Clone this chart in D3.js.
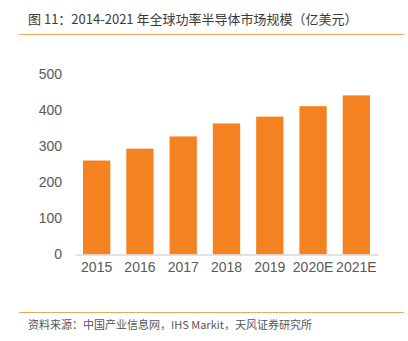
<!DOCTYPE html>
<html><head><meta charset="utf-8">
<script src="https://cdn.jsdelivr.net/npm/d3@7/dist/d3.min.js"></script>
<style>body{margin:0;background:#fff;}svg{display:block;}</style>
</head><body>
<svg id="c" width="408" height="341"></svg>
<script>
const categories = ["2015","2016","2017","2018","2019","2020E","2021E"];
const values = [261, 294, 328, 364, 383, 412, 442];
const yTicks = [0,100,200,300,400,500];
const titleText = "图 11：2014-2021 年全球功率半导体市场规模（亿美元）";
const sourceText = "资料来源：中国产业信息网，IHS Markit，天风证券研究所";

const svg = d3.select("#c");
const font = "'Noto Sans CJK SC', 'Helvetica', Arial, sans-serif";
const x = d3.scaleBand().domain(categories).range([75, 378]).paddingInner(0.37).paddingOuter(0.185);
const y = d3.scaleLinear().domain([0, 500]).range([254.5, 74.5]);

svg.append("text").attr("x", 28).attr("y", 24).attr("font-family", font)
  .attr("font-size", 13).attr("fill", "#3a3a3a").attr("font-weight", 400).text(titleText);
svg.append("line").attr("x1", 19).attr("x2", 404).attr("y1", 34.5).attr("y2", 34.5)
  .attr("stroke", "#f5a45a").attr("stroke-width", 1);

svg.selectAll("rect.bar").data(values).join("rect").attr("class","bar")
  .attr("x", (d,i) => x(categories[i])).attr("width", x.bandwidth())
  .attr("y", d => y(d)).attr("height", d => y(0) - y(d))
  .attr("fill", "#f58220");

const yAxis = d3.axisLeft(y).tickValues(yTicks).tickSize(0).tickPadding(0);
const gy = svg.append("g").attr("transform", "translate(62,0)").call(yAxis);
gy.select(".domain").remove();
gy.selectAll("text").attr("font-family", "Arial, 'Liberation Sans', sans-serif").attr("font-size", 14).attr("fill", "#595959");

const xAxis = d3.axisBottom(x).tickSize(0).tickPadding(0);
const gx = svg.append("g").attr("transform", "translate(0,254.5)").call(xAxis);
gx.select(".domain").attr("stroke", "#d9d9d9").attr("stroke-width", 1.5);
gx.selectAll("text").attr("dy", "1.25em").attr("font-family", "Arial, 'Liberation Sans', sans-serif").attr("font-size", 14).attr("fill", "#595959");

svg.append("line").attr("x1", 19).attr("x2", 404).attr("y1", 312.5).attr("y2", 312.5)
  .attr("stroke", "#f5a45a").attr("stroke-width", 1);
svg.append("text").attr("x", 28).attr("y", 329).attr("font-family", font)
  .attr("font-size", 11).attr("fill", "#555").text(sourceText);
</script>
</body></html>
